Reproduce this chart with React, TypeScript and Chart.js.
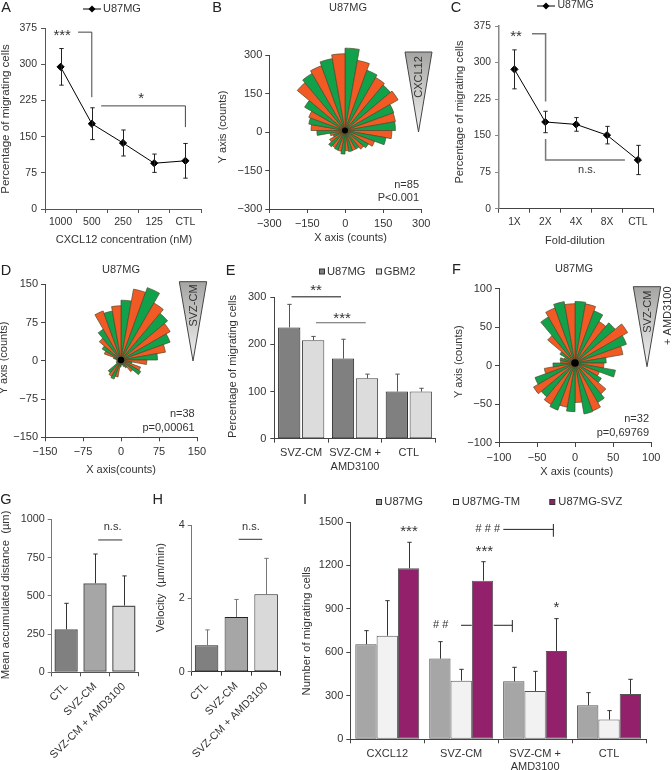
import React, { useEffect, useRef } from "react";
import { Chart, registerables } from "chart.js";

Chart.register(...registerables);

const W = 672;
const H = 770;
const FONT = "'Liberation Sans', Arial, sans-serif";
const INK = "#333";

// ---- Panel A
const aCategories = ["1000", "500", "250", "125", "CTL"];
const aValues = [295, 177, 137, 95, 100];
const aError = [38, 33, 27, 19, 36];
// ---- Panel C
const cCategories = ["1X", "2X", "4X", "8X", "CTL"];
const cValues = [286, 178, 173, 151, 100];
const cError = [40, 22, 14, 18, 30];
// ---- Panel E
const eCategories = [["SVZ-CM"], ["SVZ-CM +", "AMD3100"], ["CTL"]];
const eU87 = [236, 170, 100];
const eGbm2 = [209, 128, 100];
const eU87Err = [49, 41, 37];
const eGbm2Err = [8, 9, 7];
// ---- Panels G, H
const ghCategories = ["CTL", "SVZ-CM", "SVZ-CM + AMD3100"];
const gValues = [281, 582, 436];
const gError = [170, 191, 194];
const hValues = [0.72, 1.49, 2.11];
const hError = [0.42, 0.48, 0.98];
// ---- Panel I
const iCategories = [["CXCL12"], ["SVZ-CM"], ["SVZ-CM +", "AMD3100"], ["CTL"]];
const iU87 = [656, 557, 400, 235];
const iTM = [715, 405, 334, 136];
const iSVZ = [1180, 1095, 610, 313];
const iU87Err = [94, 117, 97, 87];
const iTMErr = [242, 78, 135, 62];
const iSVZErr = [180, 131, 223, 101];
// ---- Rose panels: counts per 10 degree bin, clockwise from north
const bBins = [325, 281, 253, 242, 234, 242, 205, 202, 199, 185, 164, 124, 106, 96, 85, 84, 85, 80, 93, 83, 82, 78, 84, 70, 50, 60, 111, 134, 145, 152, 184, 246, 260, 272, 288, 303];
const dBins = [118, 142, 152, 130, 120, 112, 103, 89, 72, 51, 22, 41, 45, 30, 18, 14, 10, 10, 14, 34, 40, 37, 33, 10, 10, 8, 8, 10, 15, 35, 43, 56, 70, 103, 98, 107];
const fBins = [81, 79, 73, 63, 69, 80, 72, 64, 41, 38, 54, 34, 40, 53, 60, 67, 68, 52, 64, 59, 66, 63, 58, 63, 56, 41, 29, 19, 20, 15, 23, 47, 70, 77, 82, 78];

type Box = { x0: number; x1: number; y0: number; y1: number };
type Txt = { t: string; x: number; y: number; s?: number; rot?: number; a?: CanvasTextAlign; c?: string };
type Spec = {
  texts?: Txt[];
  notes?: Txt[];
  marks?: { p: number[][]; c?: string; w?: number }[];
  errors?: { up: number[]; down?: number[]; c?: string }[];
  legend?: { kind: "line" | "box"; ds: number; x: number; y: number; tx: number; s?: number }[];
  wedge?: { x0: number; x1: number; y0: number; y1: number };
  hub?: number;
};

function overlay(spec: Spec) {
  return {
    id: "overlay",
    afterDraw(chart: any) {
      const ctx: CanvasRenderingContext2D = chart.ctx;
      const sx = chart.scales.x;
      const sy = chart.scales.y;
      ctx.save();
      // error bars
      (spec.errors || []).forEach((e, di) => {
        const meta = chart.getDatasetMeta(di);
        const vals = chart.data.datasets[di].data;
        ctx.strokeStyle = e.c || "#222";
        ctx.lineWidth = 1;
        meta.data.forEach((el: any, i: number) => {
          const x = Math.round(el.x) + 0.5;
          const top = sy.getPixelForValue(vals[i] + e.up[i]);
          const bot = e.down ? sy.getPixelForValue(vals[i] - e.down[i]) : sy.getPixelForValue(vals[i]);
          ctx.beginPath();
          ctx.moveTo(x, top);
          ctx.lineTo(x, bot);
          ctx.moveTo(x - 2.2, top);
          ctx.lineTo(x + 2.2, top);
          if (e.down) {
            ctx.moveTo(x - 2.2, bot);
            ctx.lineTo(x + 2.2, bot);
          }
          ctx.stroke();
        });
      });
      // brackets, in scale units
      (spec.marks || []).forEach((m) => {
        ctx.strokeStyle = m.c || "#222";
        ctx.lineWidth = m.w || 1;
        ctx.beginPath();
        m.p.forEach(([a, b], i) => {
          const x = sx.getPixelForValue(a);
          const y = sy.getPixelForValue(b);
          if (i === 0) ctx.moveTo(x, y);
          else ctx.lineTo(x, y);
        });
        ctx.stroke();
      });
      // triangle
      if (spec.wedge) {
        const w = spec.wedge;
        const g = ctx.createLinearGradient(0, w.y0, 0, w.y1);
        g.addColorStop(0, "#a5a5a3");
        g.addColorStop(1, "#f2f2f2");
        ctx.fillStyle = g;
        ctx.strokeStyle = "#444";
        ctx.lineWidth = 1;
        ctx.beginPath();
        ctx.moveTo(w.x0, w.y0);
        ctx.lineTo(w.x1, w.y0);
        ctx.lineTo((w.x0 + w.x1) / 2, w.y1);
        ctx.closePath();
        ctx.fill();
        ctx.stroke();
      }
      // rose hub
      if (spec.hub) {
        ctx.fillStyle = "#000";
        ctx.beginPath();
        ctx.arc(chart.scales.r.xCenter, chart.scales.r.yCenter, spec.hub, 0, Math.PI * 2);
        ctx.fill();
      }
      const put = (t: Txt, x: number, y: number) => {
        ctx.save();
        ctx.translate(x, y);
        if (t.rot) ctx.rotate(t.rot);
        ctx.font = `${t.s || 11}px ${FONT}`;
        ctx.fillStyle = t.c || INK;
        ctx.textAlign = t.a || "center";
        ctx.textBaseline = "middle";
        ctx.fillText(t.t, 0, 0);
        ctx.restore();
      };
      (spec.notes || []).forEach((n) => put(n, sx.getPixelForValue(n.x), sy.getPixelForValue(n.y)));
      (spec.texts || []).forEach((n) => put(n, n.x, n.y));
      // legend
      (spec.legend || []).forEach((l) => {
        const ds = chart.data.datasets[l.ds];
        if (l.kind === "line") {
          ctx.strokeStyle = "#000";
          ctx.lineWidth = 1;
          ctx.beginPath();
          ctx.moveTo(l.x - 9, l.y + 0.5);
          ctx.lineTo(l.x + 9, l.y + 0.5);
          ctx.stroke();
          ctx.fillStyle = "#000";
          ctx.beginPath();
          ctx.moveTo(l.x, l.y - 3);
          ctx.lineTo(l.x + 3.5, l.y + 0.5);
          ctx.lineTo(l.x, l.y + 4);
          ctx.lineTo(l.x - 3.5, l.y + 0.5);
          ctx.closePath();
          ctx.fill();
        } else {
          ctx.fillStyle = ds.backgroundColor;
          ctx.strokeStyle = "#333";
          ctx.lineWidth = 1;
          ctx.fillRect(l.x + 0.5, l.y - 2.5, 5, 5);
          ctx.strokeRect(l.x + 0.5, l.y - 2.5, 5, 5);
        }
        put({ t: ds.label, x: 0, y: 0, s: l.s || 11.2, a: "left" }, l.tx, l.y);
      });
      ctx.restore();
    },
  };
}

const minus = (v: any) => String(v).replace("-", "\u2212");

function frame(
  box: Box,
  o: { xType?: string; xMin?: number; xMax?: number; step?: number; yMin: number; yMax: number; yStep: number; size?: number; xPad?: number; yPad?: number; xColor?: string; yColor?: string; yWidth?: number; rotate?: number; xStep?: number }
) {
  const size = o.size || 11;
  const common = { drawOnChartArea: false, drawTicks: true, tickLength: 4 };
  const x: any = {
    type: o.xType || "category",
    position: "bottom",
    afterFit: (s: any) => {
      s.height = H - box.y1;
    },
    border: { display: true, color: o.xColor || "#444", width: 1 },
    grid: { ...common, tickColor: o.xColor || "#444", offset: true },
    ticks: {
      color: INK,
      font: { family: FONT, size },
      padding: o.xPad ?? 3,
      autoSkip: false,
      maxRotation: o.rotate ?? 0,
      minRotation: o.rotate ?? 0,
    },
  };
  if (o.xType === "linear") {
    x.min = o.xMin;
    x.max = o.xMax;
    x.ticks.stepSize = o.xStep;
    x.ticks.callback = minus;
    x.grid.offset = false;
  } else {
    x.offset = true;
  }
  const y: any = {
    type: "linear",
    position: "left",
    min: o.yMin,
    max: o.yMax,
    afterFit: (s: any) => {
      s.width = box.x0;
    },
    border: { display: true, color: o.yColor || "#444", width: o.yWidth || 1 },
    grid: { ...common, tickColor: o.yColor || "#444" },
    ticks: { color: INK, font: { family: FONT, size }, padding: o.yPad ?? 3, stepSize: o.yStep, callback: minus },
  };
  return {
    responsive: false,
    animation: false as const,
    events: [] as any[],
    layout: { padding: { left: 0, top: box.y0, right: W - box.x1, bottom: 0 } },
    plugins: { legend: { display: false }, tooltip: { enabled: false }, title: { display: false } },
    scales: { x, y } as any,
  };
}

function lineDataset(label: string, data: number[]) {
  return {
    label,
    data,
    borderColor: "#000",
    backgroundColor: "#000",
    borderWidth: 1,
    pointStyle: "rectRot",
    pointRadius: 3.6,
    tension: 0,
  };
}

function barDataset(label: string, data: number[], fill: string | string[], border: string, cat: number, bar: number, bw = 1) {
  return {
    label,
    data,
    backgroundColor: fill,
    borderColor: border,
    borderWidth: bw,
    borderSkipped: false,
    categoryPercentage: cat,
    barPercentage: bar,
  };
}

const GREEN = "#12a14b";
const ORANGE = "#f15a25";

function roseConfig(box: Box, bins: number[], limit: number, step: number, spec: Spec, hubShift = 0): any {
  const options: any = frame(box, {
    xType: "linear",
    xMin: -limit,
    xMax: limit,
    xStep: step,
    yMin: -limit,
    yMax: limit,
    yStep: step,
    size: 11,
    xPad: 4,
    yPad: 3,
  });
  options.scales.r = {
    type: "radialLinear",
    display: false,
    min: 0,
    max: limit,
    startAngle: 0,
    afterFit: (s: any) => {
      s.yCenter -= hubShift;
    },
  };
  return {
    type: "polarArea",
    data: {
      labels: bins.map((_, i) => `${i * 10}`),
      datasets: [
        {
          label: "U87MG",
          data: bins,
          clip: false,
          backgroundColor: bins.map((_, i) => (i % 2 === 0 ? GREEN : ORANGE)),
          borderColor: "#4a4a2a",
          borderWidth: 0.7,
        },
      ],
    },
    options,
    plugins: [overlay(spec)],
  };
}

const GAPPED = "#777";

const boxA: Box = { x0: 45, x1: 201, y0: 28.3, y1: 209 };
const boxB: Box = { x0: 269.3, x1: 421.3, y0: 55, y1: 209 };
const boxC: Box = { x0: 499, x1: 653.3, y0: 26, y1: 208.7 };
const boxD: Box = { x0: 45, x1: 197, y0: 284.3, y1: 437.3 };
const boxE: Box = { x0: 274.3, x1: 435.7, y0: 297.3, y1: 438.7 };
const boxF: Box = { x0: 499, x1: 651.3, y0: 288.7, y1: 443 };
const boxG: Box = { x0: 51.7, x1: 138.3, y0: 519.3, y1: 672.3 };
const boxH: Box = { x0: 191.7, x1: 281, y0: 525, y1: 671.7 };
const boxI: Box = { x0: 350.3, x1: 646, y0: 522, y1: 739.3 };

const R = -Math.PI / 2;

function buildConfigs(): any[] {
  const a = {
    type: "line",
    data: { labels: aCategories, datasets: [lineDataset("U87MG", aValues)] },
    options: frame(boxA, { yMin: 0, yMax: 375, yStep: 75, size: 10.5, xColor: "#555", yColor: "#555", yPad: 4 }),
    plugins: [
      overlay({
        errors: [{ up: aError, down: aError }],
        marks: [
          { p: [[0.56, 367], [1.0, 367], [1.0, 232]], c: "#444" },
          { p: [[1.3, 214], [4.0, 214], [4.0, 170]], c: "#444" },
        ],
        notes: [
          { t: "***", x: 0.05, y: 359, s: 15 },
          { t: "*", x: 2.58, y: 228, s: 15 },
        ],
        texts: [
          { t: "A", x: 6, y: 8, s: 14.5, c: "#222" },
          { t: "Percentage of migrating cells", x: 6, y: 119, s: 11.6, rot: R },
          { t: "CXCL12 concentration (nM)", x: 124, y: 240, s: 11 },
        ],
        legend: [{ kind: "line", ds: 0, x: 92, y: 8.5, tx: 103, s: 11 }],
      }),
    ],
  };
  const b = roseConfig(boxB, bBins, 300, 150, {
    hub: 3,
    wedge: { x0: 405, x1: 432, y0: 52, y1: 132 },
    texts: [
      { t: "B", x: 217, y: 8, s: 14.5, c: "#222" },
      { t: "U87MG", x: 348, y: 7.5 },
      { t: "Y axis (counts)", x: 223, y: 127, rot: R },
      { t: "X axis (counts)", x: 350.5, y: 238 },
      { t: "CXCL12", x: 419, y: 77, rot: R },
      { t: "n=85", x: 419, y: 185, a: "right" },
      { t: "P<0.001", x: 419, y: 198, a: "right" },
    ],
  }, 1.5);
  const c = {
    type: "line",
    data: { labels: cCategories, datasets: [lineDataset("U87MG", cValues)] },
    options: frame(boxC, { yMin: 0, yMax: 375, yStep: 75, size: 10.3, xColor: "#444", yColor: "#888", yWidth: 1.5, yPad: 4 }),
    plugins: [
      overlay({
        errors: [{ up: cError, down: cError }],
        marks: [
          { p: [[0.57, 359], [1.01, 359], [1.01, 220]], c: GAPPED, w: 1.5 },
          { p: [[1.01, 143], [1.01, 100], [3.58, 100]], c: GAPPED, w: 1.5 },
        ],
        notes: [
          { t: "**", x: 0.05, y: 352, s: 15 },
          { t: "n.s.", x: 2.35, y: 79 },
        ],
        texts: [
          { t: "C", x: 456, y: 7.5, s: 14.5, c: "#222" },
          { t: "Percentage of migrating cells", x: 460, y: 112, s: 11.1, rot: R },
          { t: "Fold-dilution", x: 575, y: 241, s: 11 },
        ],
        legend: [{ kind: "line", ds: 0, x: 546, y: 5.5, tx: 557.5, s: 10.5 }],
      }),
    ],
  };
  const d = roseConfig(boxD, dBins, 150, 75, {
    hub: 3.2,
    wedge: { x0: 179.3, x1: 206.7, y0: 281.7, y1: 361 },
    texts: [
      { t: "D", x: 6, y: 270.5, s: 14.5, c: "#222" },
      { t: "U87MG", x: 121, y: 270 },
      { t: "Y axis (counts)", x: 4, y: 358, rot: R },
      { t: "X axis(counts)", x: 121, y: 469.5 },
      { t: "SVZ-CM", x: 194, y: 305.5, rot: R },
      { t: "n=38", x: 194.7, y: 414, a: "right" },
      { t: "p=0,00061", x: 194.7, y: 427.7, a: "right" },
    ],
  });
  const e = {
    type: "bar",
    data: {
      labels: eCategories,
      datasets: [
        barDataset("U87MG", eU87, "#808080", "#222", 0.89, 0.93),
        barDataset("GBM2", eGbm2, "#dcdcdc", "#444", 0.89, 0.93),
      ],
    },
    options: frame(boxE, { yMin: 0, yMax: 300, yStep: 100, size: 11, yPad: 4, xPad: 4 }),
    plugins: [
      overlay({
        errors: [
          { up: eU87Err, c: "#555" },
          { up: eGbm2Err, c: "#555" },
        ],
        marks: [
          { p: [[-0.18, 301], [0.74, 301]], c: "#111" },
          { p: [[0.275, 246], [1.2, 246]], c: "#666" },
        ],
        notes: [
          { t: "**", x: 0.275, y: 313, s: 15 },
          { t: "***", x: 0.76, y: 255, s: 15 },
        ],
        texts: [
          { t: "E", x: 230.7, y: 271, s: 14.5, c: "#222" },
          { t: "Percentage of migrating cells", x: 233, y: 366.5, s: 11.1, rot: R },
        ],
        legend: [
          { kind: "box", ds: 0, x: 319, y: 271.5, tx: 327 },
          { kind: "box", ds: 1, x: 376, y: 271.5, tx: 383.7 },
        ],
      }),
    ],
  };
  const f = roseConfig(boxF, fBins, 100, 50, {
    hub: 3.8,
    wedge: { x0: 633.3, x1: 660.7, y0: 286.7, y1: 366.7 },
    texts: [
      { t: "F", x: 456.5, y: 270, s: 14.5, c: "#222" },
      { t: "U87MG", x: 574, y: 269 },
      { t: "Y axis (counts)", x: 459, y: 361.7, rot: R },
      { t: "X axis (counts)", x: 576.7, y: 472 },
      { t: "SVZ-CM", x: 647.7, y: 311.7, rot: R },
      { t: "+ AMD3100", x: 667.5, y: 315.7, rot: R },
      { t: "n=32", x: 649, y: 419, a: "right" },
      { t: "p=0,69769", x: 649, y: 432.7, a: "right" },
    ],
  }, 2);
  const g = {
    type: "bar",
    data: {
      labels: ghCategories,
      datasets: [barDataset("U87MG", gValues, ["#808080", "#a6a6a6", "#d9d9d9"], "#555", 0.81, 1, 1.5)],
    },
    options: frame(boxG, { yMin: 0, yMax: 1000, yStep: 250, size: 10.8, rotate: 45, yColor: "#777", xColor: "#555", yPad: 3, xPad: 4 }),
    plugins: [
      overlay({
        errors: [{ up: gError, c: "#333" }],
        marks: [{ p: [[1.11, 865], [1.945, 865]], c: "#333" }],
        notes: [{ t: "n.s.", x: 1.61, y: 948 }],
        texts: [
          { t: "G", x: 6, y: 500, s: 14.5, c: "#222" },
          { t: "Mean accumulated distance  (\u00b5m)", x: 6, y: 595, s: 11.2, rot: R },
        ],
      }),
    ],
  };
  const h = {
    type: "bar",
    data: {
      labels: ghCategories,
      datasets: [barDataset("U87MG", hValues, ["#808080", "#a6a6a6", "#d9d9d9"], "#222", 0.79, 1, 1)],
    },
    options: frame(boxH, { yMin: 0, yMax: 4, yStep: 2, size: 10.8, rotate: 45, yColor: "#777", xColor: "#333", yPad: 3, xPad: 4 }),
    plugins: [
      overlay({
        errors: [{ up: hError, c: "#777" }],
        marks: [{ p: [[1.08, 3.61], [1.87, 3.61]], c: "#333" }],
        notes: [{ t: "n.s.", x: 1.49, y: 3.94 }],
        texts: [
          { t: "H", x: 157.7, y: 500, s: 14.5, c: "#222" },
          { t: "Velocity  (\u00b5m/min)", x: 161, y: 587.7, s: 11.2, rot: R },
        ],
      }),
    ],
  };
  const i = {
    type: "bar",
    data: {
      labels: iCategories,
      datasets: [
        barDataset("U87MG", iU87, "#a6a6a6", "#555", 0.865, 1),
        barDataset("U87MG-TM", iTM, "#f2f2f2", "#555", 0.865, 1),
        barDataset("U87MG-SVZ", iSVZ, "#92206b", "#555", 0.865, 1),
      ],
    },
    options: frame(boxI, { yMin: 0, yMax: 1500, yStep: 300, size: 11, yPad: 3, xPad: 4 }),
    plugins: [
      overlay({
        errors: [
          { up: iU87Err, c: "#333" },
          { up: iTMErr, c: "#333" },
          { up: iSVZErr, c: "#333" },
        ],
        marks: [
          { p: [[1.57, 1449], [2.247, 1449]] },
          { p: [[2.247, 1486], [2.247, 1398]] },
          { p: [[0.998, 787], [1.143, 787]] },
          { p: [[1.44, 787], [1.692, 787]] },
          { p: [[1.692, 823], [1.692, 740]] },
        ],
        notes: [
          { t: "***", x: 0.294, y: 1431, s: 15 },
          { t: "***", x: 1.313, y: 1293, s: 15 },
          { t: "# # #", x: 1.36, y: 1449, s: 11 },
          { t: "# #", x: 0.723, y: 789, s: 11 },
          { t: "*", x: 2.288, y: 906, s: 15 },
        ],
        texts: [
          { t: "I", x: 305, y: 500, s: 14.5, c: "#222" },
          { t: "Number of migrating cells", x: 307.3, y: 631, s: 11.4, rot: R },
        ],
        legend: [
          { kind: "box", ds: 0, x: 376, y: 502, tx: 384.3 },
          { kind: "box", ds: 1, x: 453, y: 502, tx: 461.7 },
          { kind: "box", ds: 2, x: 549.3, y: 502, tx: 558.3 },
        ],
      }),
    ],
  };
  return [a, b, c, d, e, f, g, h, i];
}

export default function App() {
  const host = useRef<HTMLDivElement | null>(null);
  useEffect(() => {
    const el = host.current!;
    const charts = buildConfigs().map((cfg) => {
      const cv = document.createElement("canvas");
      cv.width = W;
      cv.height = H;
      cv.style.cssText = `position:absolute;left:0;top:0;width:${W}px;height:${H}px;display:block`;
      el.appendChild(cv);
      return { chart: new Chart(cv, cfg), cv };
    });
    return () => {
      charts.forEach(({ chart, cv }) => {
        chart.destroy();
        cv.remove();
      });
    };
  }, []);
  return <div ref={host} style={{ position: "fixed", left: 0, top: 0, width: W, height: H, background: "#fff", overflow: "hidden" }} />;
}
